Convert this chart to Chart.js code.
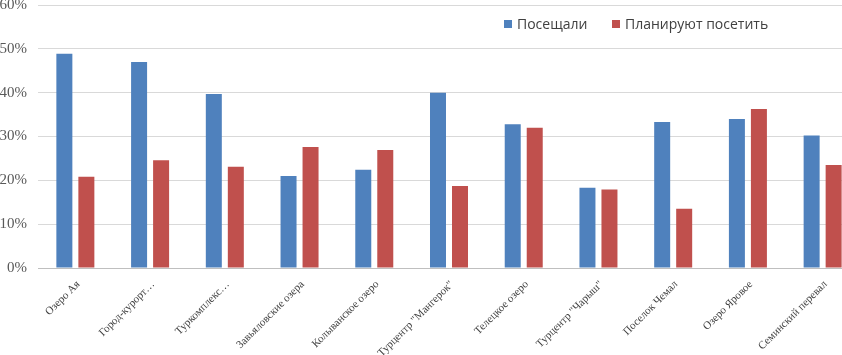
<!DOCTYPE html>
<html>
<head>
<meta charset="utf-8">
<script src="https://cdn.jsdelivr.net/npm/chart.js@4"></script>
<style>
  html, body { margin: 0; padding: 0; background: #fff; }
  body { width: 842px; height: 355px; overflow: hidden; position: relative; }
  #wrap { position: absolute; left: 0; top: 0; width: 860px; height: 355px; }
  .leg { position: absolute; top: 14px; font-family: "Open Sans", sans-serif; font-size: 14px; color: #404040; line-height: 20px; white-space: nowrap; }
  .leg i { display: inline-block; width: 8px; height: 8px; margin-right: 5px; vertical-align: 1px; }
</style>
</head>
<body>
<div id="wrap"><canvas id="grafico" width="860" height="355"></canvas></div>
<div class="leg" style="left:504px"><i style="background:#4F81BD"></i>Посещали</div>
<div class="leg" style="left:612px"><i style="background:#C0504D"></i>Планируют посетить</div>
<script>
const categorias = [
  'Озеро Ая',
  'Город-курорт…',
  'Туркомплекс…',
  'Завьяловские озера',
  'Колыванское озеро',
  'Турцентр "Мангерок"',
  'Телецкое озеро',
  'Турцентр "Чарыш"',
  'Поселок Чемал',
  'Озеро Яровое',
  'Семинский перевал'
];
const posetili = [48.9, 47.0, 39.7, 21.0, 22.4, 40.0, 32.8, 18.3, 33.3, 34.0, 30.2];
const planiruyut = [20.8, 24.6, 23.1, 27.6, 26.9, 18.7, 32.0, 17.9, 13.5, 36.3, 23.5];
const nomesSeries = ['Посещали', 'Планируют посетить'];
const yTicks = [0, 10, 20, 30, 40, 50, 60];

new Chart(document.getElementById('grafico'), {
  type: 'bar',
  data: {
    labels: categorias,
    datasets: [
      { label: nomesSeries[0], data: posetili, backgroundColor: '#4F81BD' },
      { label: nomesSeries[1], data: planiruyut, backgroundColor: '#C0504D' }
    ]
  },
  options: {
    responsive: false,
    animation: false,
    devicePixelRatio: 1,
    categoryPercentage: 0.589,
    barPercentage: 0.727,
    layout: { padding: { top: 5, right: 0, bottom: 0, left: 0 } },
    plugins: { legend: { display: false }, tooltip: { enabled: false } },
    scales: {
      x: {
        grid: { display: false, drawTicks: false },
        border: { display: true, color: '#bfbfbf' },
        ticks: {
          autoSkip: false,
          minRotation: 45,
          maxRotation: 45,
          padding: 10,
          labelOffset: 3,
          color: '#404040',
          font: { family: '"Liberation Serif", serif', size: 11 }
        },
        afterFit: (scale) => { scale.height = 87; }
      },
      y: {
        min: 0,
        max: 60,
        afterBuildTicks: (scale) => { scale.ticks = yTicks.map(v => ({ value: v })); },
        grid: { color: '#d9d9d9', drawTicks: false },
        border: { display: false },
        ticks: {
          padding: 11,
          color: '#595959',
          font: { family: '"Liberation Serif", serif', size: 15 },
          callback: (v) => v + '%'
        },
        afterFit: (scale) => {
          scale.width = 38;
          scale.paddingTop = 0;
          scale.paddingBottom = 0;
        }
      }
    }
  }
});
</script>
</body>
</html>
